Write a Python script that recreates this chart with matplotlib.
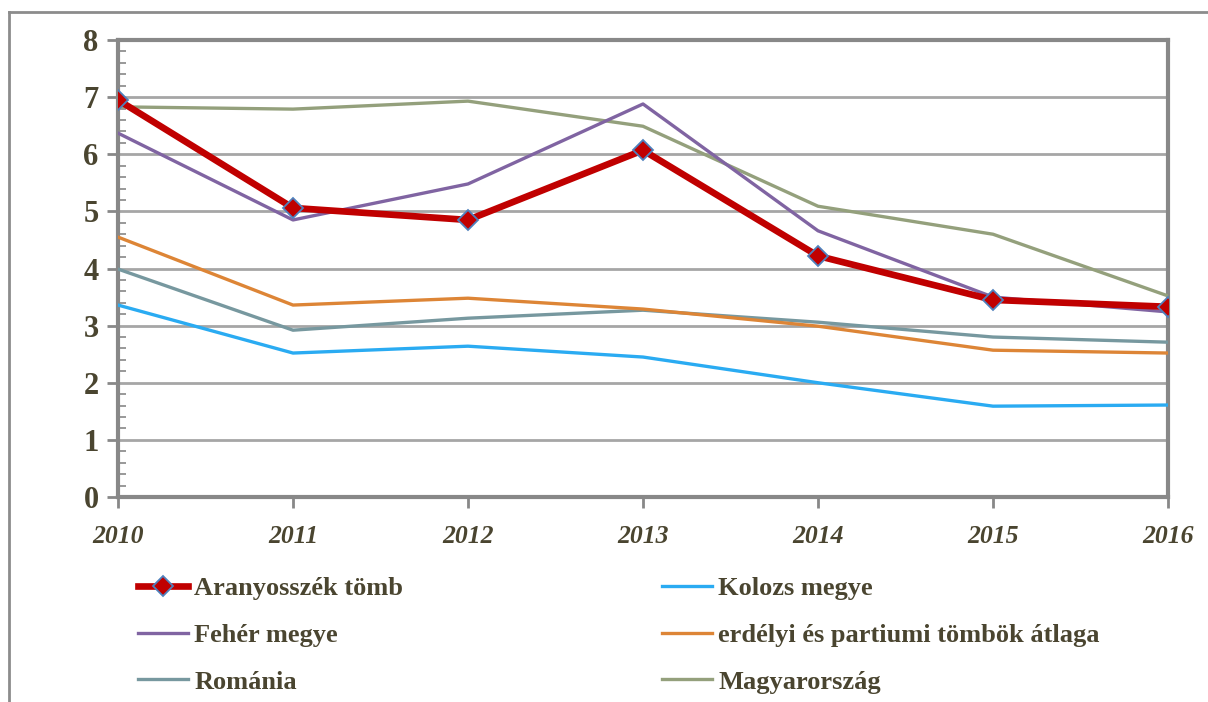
import matplotlib
matplotlib.use("Agg")
import matplotlib.pyplot as plt
from matplotlib.lines import Line2D

years = [2010, 2011, 2012, 2013, 2014, 2015, 2016]
yticks = [0, 1, 2, 3, 4, 5, 6, 7, 8]

aranyosszek = [6.95, 5.06, 4.85, 6.07, 4.22, 3.45, 3.33]
kolozs = [3.36, 2.52, 2.64, 2.45, 2.00, 1.59, 1.61]
feher = [6.37, 4.85, 5.48, 6.88, 4.66, 3.50, 3.24]
erdelyi = [4.55, 3.36, 3.48, 3.29, 2.99, 2.57, 2.52]
romania = [3.99, 2.92, 3.13, 3.27, 3.06, 2.80, 2.71]
magyar = [6.83, 6.79, 6.93, 6.49, 5.09, 4.60, 3.52]

labels = ["Aranyosszék tömb", "Kolozs megye", "Fehér megye",
          "erdélyi és partiumi tömbök átlaga", "Románia", "Magyarország"]

txt_color = "#4A4530"
spine_color = "#888888"
serif = ["Liberation Serif", "DejaVu Serif"]

fig = plt.figure(figsize=(12.08, 7.02), dpi=100)
ax = fig.add_axes([118 / 1208, 1 - 497 / 702, 1050 / 1208, 457 / 702])

# outer frame of the chart area
fig.add_artist(Line2D([9 / 1208, 9 / 1208], [0, 1 - 12 / 702], transform=fig.transFigure,
                      color="#8C8C8C", lw=2))
fig.add_artist(Line2D([9 / 1208, 1], [1 - 12 / 702, 1 - 12 / 702], transform=fig.transFigure,
                      color="#8C8C8C", lw=2))

ax.plot(years, magyar, color="#94A07C", lw=2.4, label=labels[5], zorder=3)
ax.plot(years, romania, color="#77989F", lw=2.4, label=labels[4], zorder=3)
ax.plot(years, erdelyi, color="#DD8536", lw=2.4, label=labels[3], zorder=3)
ax.plot(years, kolozs, color="#2AABF2", lw=2.4, label=labels[1], zorder=3)
ax.plot(years, feher, color="#8064A2", lw=2.4, label=labels[2], zorder=4)
ax.plot(years, aranyosszek, color="#C00000", lw=4.8, marker="D", markersize=10,
        markerfacecolor="#C00000", markeredgecolor="#4F81BD", markeredgewidth=1.3,
        label=labels[0], zorder=5)

ax.set_xlim(2010, 2016)
ax.set_ylim(0, 8)
ax.set_xticks(years)
ax.set_yticks(yticks)
ax.set_yticks([i / 5 for i in range(41) if i % 5], minor=True)
ax.grid(axis="y", which="major", color="#A6A6A6", lw=2, zorder=1)

for s in ax.spines.values():
    s.set_color(spine_color)
    s.set_linewidth(3)

ax.tick_params(axis="y", which="major", direction="out", length=8, width=2,
               color=spine_color, pad=6)
ax.tick_params(axis="y", which="minor", direction="in", length=6, width=1.2,
               color=spine_color)
ax.tick_params(axis="x", which="major", direction="out", length=8, width=2,
               color=spine_color, pad=12)

ax.set_yticklabels([str(v) for v in yticks], fontfamily=serif, fontweight="bold",
                   fontsize=22, color=txt_color)
ax.set_xticklabels([str(y) for y in years], fontfamily=serif, fontweight="bold",
                   fontstyle="italic", fontsize=18.5, color=txt_color)

handles, labs = ax.get_legend_handles_labels()
hmap = dict(zip(labs, handles))

leg_font = {"family": serif, "weight": "bold", "size": 19}
col1 = [labels[0], labels[2], labels[4]]
col2 = [labels[1], labels[3], labels[5]]
for col, xpos in [(col1, 114), (col2, 638)]:
    fig.legend([hmap[l] for l in col], col, loc="upper left",
               bbox_to_anchor=(xpos / 1208, 1 - 553 / 702), frameon=False,
               prop=leg_font, labelcolor=txt_color, handlelength=1.9,
               handletextpad=0.25, labelspacing=0.88)

fig.savefig("out.png", dpi=100)
